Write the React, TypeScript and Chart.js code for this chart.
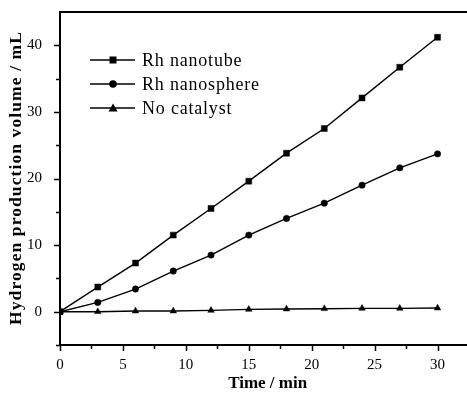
import React, { useEffect, useRef } from "react";
import { Chart, registerables } from "chart.js";

Chart.register(...registerables);

const timeMin = [0, 3, 6, 9, 12, 15, 18, 21, 24, 27, 30];
const nanotube = [0, 3.7, 7.3, 11.5, 15.5, 19.6, 23.8, 27.5, 32.1, 36.7, 41.2];
const nanosphere = [0, 1.4, 3.4, 6.1, 8.5, 11.5, 14.0, 16.3, 19.0, 21.6, 23.7];
const noCatalyst = [0, 0.0, 0.1, 0.1, 0.2, 0.35, 0.4, 0.45, 0.5, 0.5, 0.55];
const seriesLabels = ["Rh nanotube", "Rh nanosphere", "No catalyst"];
const pointStyles = ["rect", "circle", "triangle"];
const pointRadii = [4.2, 3.2, 3.8];
const xTicks = [0, 5, 10, 15, 20, 25, 30];
const yTicks = [-5, 0, 5, 10, 15, 20, 25, 30, 35, 40];
const xTitle = "Time / min";
const yTitle = "Hydrogen production volume / mL";

const SERIF = "'Liberation Serif', 'Times New Roman', serif";

const framePlugin = {
  id: "frame",
  afterDraw(chart: any) {
    const { ctx, chartArea } = chart;
    const xs = chart.scales.x;
    const ys = chart.scales.y;
    ctx.save();
    ctx.strokeStyle = "#000";
    ctx.lineWidth = 2;
    ctx.beginPath();
    ctx.moveTo(chartArea.left - 1, chartArea.top);
    ctx.lineTo(chartArea.right, chartArea.top);
    ctx.stroke();
    // ticks (major at labelled values, minor halfway)
    ctx.lineWidth = 1.5;
    for (let v = 0; v <= 32.5; v += 2.5) {
      const px = Math.round(xs.getPixelForValue(v)) + 0.5;
      const len = v % 5 === 0 ? 6 : 4;
      ctx.beginPath();
      ctx.moveTo(px, chartArea.bottom);
      ctx.lineTo(px, chartArea.bottom + len);
      ctx.stroke();
    }
    for (let v = -5; v <= 40; v += 5) {
      const py = Math.round(ys.getPixelForValue(v)) + 0.5;
      const len = v % 10 === 0 ? 6 : 4;
      ctx.beginPath();
      ctx.moveTo(chartArea.left, py);
      ctx.lineTo(chartArea.left - len, py);
      ctx.stroke();
    }
    // y title
    ctx.save();
    ctx.translate(16, 178);
    ctx.rotate(-Math.PI / 2);
    ctx.font = `bold 17.5px ${SERIF}`;
    (ctx as any).letterSpacing = "1.1px";
    ctx.textAlign = "center";
    ctx.textBaseline = "middle";
    ctx.fillStyle = "#000";
    ctx.fillText(yTitle, 0, 0);
    ctx.restore();
    // legend
    ctx.save();
    ctx.font = `18px ${SERIF}`;
    (ctx as any).letterSpacing = "0.8px";
    ctx.textBaseline = "middle";
    ctx.textAlign = "left";
    ctx.fillStyle = "#000";
    chart.data.datasets.forEach((ds: any, i: number) => {
      const y = 60 + 24 * i;
      ctx.lineWidth = 1.5;
      ctx.beginPath();
      ctx.moveTo(90, y);
      ctx.lineTo(135, y);
      ctx.stroke();
      const cx = 113;
      const style = pointStyles[i];
      ctx.beginPath();
      if (style === "rect") {
        ctx.rect(cx - 3.5, y - 3.5, 7, 7);
      } else if (style === "circle") {
        ctx.arc(cx, y, 3.8, 0, Math.PI * 2);
      } else {
        ctx.moveTo(cx, y - 4.5);
        ctx.lineTo(cx + 4.5, y + 3.5);
        ctx.lineTo(cx - 4.5, y + 3.5);
        ctx.closePath();
      }
      ctx.fill();
      ctx.fillText(ds.label, 142, y + 1);
    });
    ctx.restore();
    ctx.restore();
  },
};

export default function App() {
  const ref = useRef<HTMLCanvasElement>(null);
  useEffect(() => {
    document.body.style.margin = "0";
    const makeSet = (label: string, vals: number[], i: number) => ({
      label,
      data: timeMin.map((t, k) => ({ x: t, y: vals[k] })),
      borderColor: "#000",
      backgroundColor: "#000",
      borderWidth: 1.4,
      pointStyle: pointStyles[i],
      pointRadius: pointRadii[i],
      pointBorderWidth: 0.5,
      pointBackgroundColor: "#000",
      pointBorderColor: "#000",
      tension: 0,
    });
    const chart = new Chart(ref.current!, {
      type: "line",
      data: {
        datasets: [
          makeSet(seriesLabels[0], nanotube, 0),
          makeSet(seriesLabels[1], nanosphere, 1),
          makeSet(seriesLabels[2], noCatalyst, 2),
        ],
      },
      options: {
        animation: false,
        responsive: false,
        devicePixelRatio: 1,
        layout: { padding: { top: 12, right: 2, left: 0, bottom: 0 } },
        plugins: { legend: { display: false }, tooltip: { enabled: false } },
        scales: {
          x: {
            type: "linear",
            min: 0,
            max: 33,
            grid: { display: false },
            border: { display: true, color: "#000", width: 2 },
            afterBuildTicks: (s: any) => {
              s.ticks = xTicks.map((value) => ({ value }));
            },
            ticks: {
              color: "#000",
              padding: 3,
              maxRotation: 0,
              font: { family: SERIF, size: 15 },
              callback: (v: any) => String(v),
            },
            title: {
              display: true,
              text: xTitle,
              color: "#000",
              font: { family: SERIF, size: 17, weight: "bold" },
              padding: { top: 1, bottom: 0 },
            },
            afterFit: (s: any) => {
              s.height = 49;
            },
          },
          y: {
            type: "linear",
            min: -5,
            max: 45,
            grid: { display: false },
            border: { display: true, color: "#000", width: 2 },
            afterBuildTicks: (s: any) => {
              s.ticks = yTicks.map((value) => ({ value }));
            },
            ticks: {
              color: "#000",
              padding: 10,
              font: { family: SERIF, size: 15 },
              callback: (v: any) => (v % 10 === 0 ? String(v) : ""),
            },
            title: { display: false },
            afterFit: (s: any) => {
              s.width = 60;
              s.paddingTop = 0;
              s.paddingBottom = 0;
            },
          },
        },
      },
      plugins: [framePlugin],
    } as any);
    return () => chart.destroy();
  }, []);
  return (
    <div style={{ position: "fixed", left: 0, top: 0, width: 467, height: 394, overflow: "hidden", background: "#fff" }}>
      <canvas ref={ref} width={480} height={394} />
    </div>
  );
}
